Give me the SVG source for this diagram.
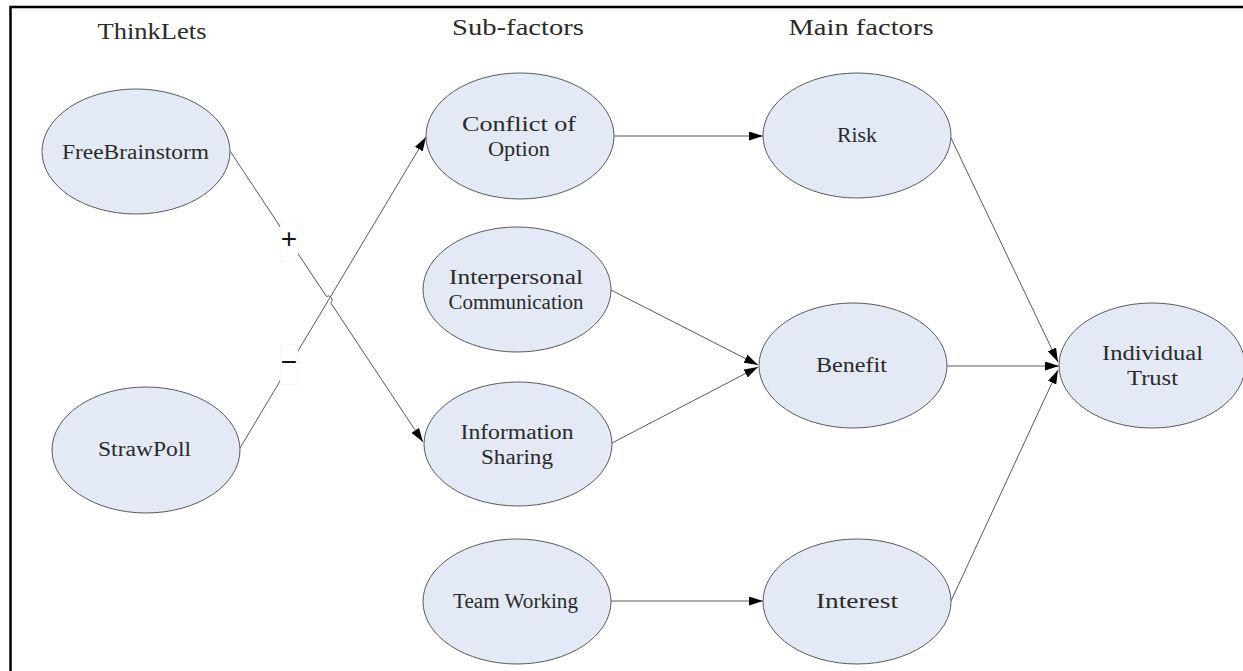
<svg xmlns="http://www.w3.org/2000/svg" width="1243" height="671" viewBox="0 0 1243 671">
  <style>
    .node ellipse { fill: #E4EAF5; stroke: #5a5a5a; stroke-width: 1; }
    .node text, .head { font-family: "Liberation Serif", "DejaVu Serif", serif; fill: #2a2a2a; text-anchor: middle; dominant-baseline: central; }
    .node text { font-size: 20.5px; }
    .head { font-size: 24px; }
    .conn { fill: none; stroke: #5a5a5a; stroke-width: 1; marker-end: url(#arrow); }
    .lbl rect { fill: #ffffff; stroke: #f7f7f7; stroke-width: 1; }
    .lbl text { font-family: "Liberation Sans", "DejaVu Sans", sans-serif; font-size: 28px; fill: #111; text-anchor: middle; dominant-baseline: central; }
  </style>
  <defs>
    <marker id="arrow" markerUnits="userSpaceOnUse" viewBox="0 0 14 9" refX="14" refY="4.5" markerWidth="14" markerHeight="9" orient="auto">
      <path d="M0,0 L14,4.5 L0,9 z" fill="#000"/>
    </marker>
  </defs>
  <rect x="0" y="0" width="1243" height="671" fill="#ffffff"/>
  <rect x="10.5" y="7" width="1260" height="700" fill="none" stroke="#000" stroke-width="2.5"/>

  <g id="headings">
    <text class="head" x="152" y="31" textLength="109" lengthAdjust="spacingAndGlyphs">ThinkLets</text>
    <text class="head" x="518" y="27" textLength="132" lengthAdjust="spacingAndGlyphs">Sub-factors</text>
    <text class="head" x="861" y="27" textLength="145" lengthAdjust="spacingAndGlyphs">Main factors</text>
  </g>

  <g id="connectors">
    <path class="conn" d="M230,151 L326.4,296.4 A4,4 0 0 1 330.8,303 L423,442"/>
    <path class="conn" d="M240,448 L426,137"/>
    <path class="conn" d="M614,136 L763,136"/>
    <path class="conn" d="M611,290 L758,365"/>
    <path class="conn" d="M612,443 L758,367"/>
    <path class="conn" d="M611,601 L763,601"/>
    <path class="conn" d="M951,138 L1058,362"/>
    <path class="conn" d="M947,366 L1059,366"/>
    <path class="conn" d="M951,601 L1058,370"/>
    <g class="lbl" id="label-plus">
      <rect x="280.5" y="221.5" width="17" height="40"/>
      <text x="289" y="238">+</text>
    </g>
    <g class="lbl" id="label-minus">
      <rect x="280.5" y="344.5" width="17" height="40"/>
      <text x="289" y="361">−</text>
    </g>
  </g>

  <g id="freebrainstorm" class="node">
    <ellipse cx="136" cy="151.5" rx="94" ry="62.5"/>
    <text x="135.5" y="151.5" textLength="147" lengthAdjust="spacingAndGlyphs">FreeBrainstorm</text>
  </g>
  <g id="strawpoll" class="node">
    <ellipse cx="146" cy="450" rx="94" ry="63"/>
    <text x="144.5" y="449" textLength="93" lengthAdjust="spacingAndGlyphs">StrawPoll</text>
  </g>
  <g id="conflict" class="node">
    <ellipse cx="520" cy="136" rx="94" ry="63"/>
    <text x="519" y="123.5" textLength="114" lengthAdjust="spacingAndGlyphs">Conflict of</text>
    <text x="519" y="148.5" textLength="62" lengthAdjust="spacingAndGlyphs">Option</text>
  </g>
  <g id="interpersonal" class="node">
    <ellipse cx="517" cy="289.5" rx="94" ry="62.5"/>
    <text x="516" y="277" textLength="134" lengthAdjust="spacingAndGlyphs">Interpersonal</text>
    <text x="516" y="302" textLength="135" lengthAdjust="spacingAndGlyphs">Communication</text>
  </g>
  <g id="infosharing" class="node">
    <ellipse cx="518" cy="444" rx="94" ry="62"/>
    <text x="517" y="431.5" textLength="113" lengthAdjust="spacingAndGlyphs">Information</text>
    <text x="517" y="456.5" textLength="72" lengthAdjust="spacingAndGlyphs">Sharing</text>
  </g>
  <g id="teamworking" class="node">
    <ellipse cx="517" cy="601.5" rx="94" ry="62.5"/>
    <text x="515.5" y="600.5" textLength="125" lengthAdjust="spacingAndGlyphs">Team Working</text>
  </g>
  <g id="risk" class="node">
    <ellipse cx="857" cy="135.5" rx="94" ry="62.5"/>
    <text x="857" y="135" textLength="40" lengthAdjust="spacingAndGlyphs">Risk</text>
  </g>
  <g id="benefit" class="node">
    <ellipse cx="853" cy="365.5" rx="94" ry="62.5"/>
    <text x="851.5" y="365" textLength="71" lengthAdjust="spacingAndGlyphs">Benefit</text>
  </g>
  <g id="interest" class="node">
    <ellipse cx="857" cy="601.5" rx="94" ry="62.5"/>
    <text x="857" y="600.5" textLength="82" lengthAdjust="spacingAndGlyphs">Interest</text>
  </g>
  <g id="trust" class="node">
    <ellipse cx="1152" cy="365.5" rx="93" ry="62.5"/>
    <text x="1152.5" y="353" textLength="101" lengthAdjust="spacingAndGlyphs">Individual</text>
    <text x="1152.5" y="378" textLength="51" lengthAdjust="spacingAndGlyphs">Trust</text>
  </g>
</svg>
